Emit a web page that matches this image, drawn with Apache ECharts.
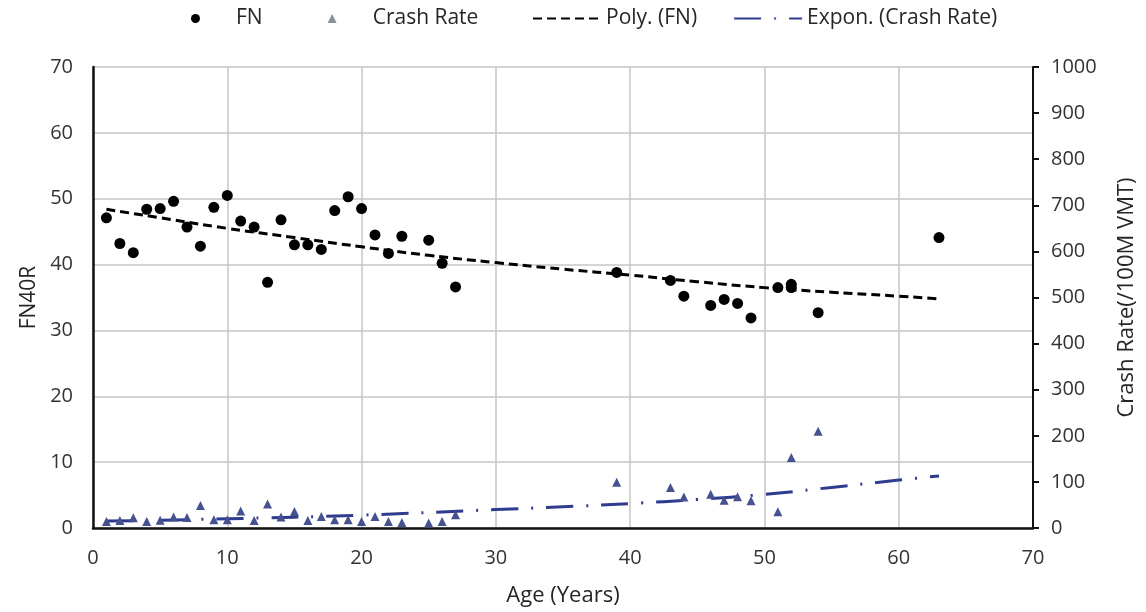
<!DOCTYPE html>
<html>
<head>
<meta charset="utf-8">
<script src="https://cdn.jsdelivr.net/npm/echarts@6/dist/echarts.min.js"></script>
<style>
  html, body { margin: 0; padding: 0; background: #fff; }
  #container { width: 1146px; height: 612px; }
</style>
</head>
<body>
<div id="container"></div>
<script>
// FN points (age, FN40R)
var fnAges = [1, 2, 3, 4, 5, 6, 7, 8, 9, 10, 11, 12, 13, 14, 15, 16, 17, 18, 19, 20, 21, 22, 23, 25, 26, 27, 39, 43, 44, 46, 47, 48, 49, 51, 52, 52, 54, 63];
var fnValues = [47.1, 43.2, 41.8, 48.4, 48.5, 49.6, 45.7, 42.8, 48.7, 50.5, 46.6, 45.7, 37.3, 46.8, 43.0, 43.0, 42.3, 48.2, 50.3, 48.5, 44.5, 41.7, 44.3, 43.7, 40.2, 36.6, 38.8, 37.6, 35.2, 33.8, 34.7, 34.1, 31.9, 36.5, 37.0, 36.5, 32.7, 44.1];

// crash rate points (age, /100M VMT)
var crashAges = [1, 2, 3, 4, 5, 6, 7, 8, 9, 10, 11, 12, 13, 14, 15, 16, 17, 18, 19, 20, 21, 22, 23, 25, 26, 27, 39, 43, 44, 46, 47, 48, 49, 51, 52, 54];
var crashValues = [14, 16, 22, 14, 17, 24, 23, 49, 18, 18, 37, 16, 52, 24, 36, 16, 25, 18, 18, 14, 25, 14, 12, 11, 14, 29, 99, 88, 67, 73, 60, 68, 59, 35, 153, 210];

// trend lines
var polyAges = [1, 5, 10, 15, 20, 25, 30, 35, 40, 45, 50, 55, 60, 63];
var polyValues = [48.4, 47.1, 45.5, 44.1, 42.7, 41.4, 40.3, 39.3, 38.4, 37.4, 36.5, 35.8, 35.2, 34.8];
var exponAges = [1, 10, 20, 30, 35, 40, 45, 50, 55, 60, 63];
var exponValues = [15, 20, 28, 40, 46, 53, 62, 73, 88, 104, 113];

function pairs(xs, ys) {
  var out = [];
  for (var i = 0; i < xs.length; i++) out.push([xs[i], ys[i]]);
  return out;
}

var dom = document.getElementById("container");
var myChart = echarts.init(dom, null, { renderer: 'canvas' });
var font = 'Open Sans';
var ink = '#262626';
var option = null;

option = {
  backgroundColor: '#ffffff',
  animation: false,
  textStyle: { fontFamily: font },

  // two legends: marker keys and trendline keys
  legend: [
    {
      top: 3,
      left: 186,
      itemWidth: 9,
      itemHeight: 9,
      itemGap: 65,
      textStyle: { fontFamily: font, fontSize: 21, color: ink, padding: [0, 0, 0, 31] },
      data: [
        { name: 'FN', icon: 'circle', itemStyle: { color: '#000' } },
        { name: 'Crash Rate', icon: 'triangle', itemStyle: { color: '#8a8f9e' } }
      ]
    },
    {
      top: 3,
      left: 527,
      itemWidth: 68,
      itemHeight: 10,
      itemGap: 36,
      textStyle: { fontFamily: font, fontSize: 21, color: ink },
      data: [
        { name: 'Poly. (FN)', itemStyle: { opacity: 0 } },
        { name: 'Expon. (Crash Rate)', itemStyle: { opacity: 0 } }
      ]
    }
  ],

  grid: { left: 93, right: 113, top: 67, bottom: 82 },

  xAxis: {
    type: 'value',
    min: 0, max: 70, interval: 10,
    name: 'Age (Years)',
    nameLocation: 'middle',
    nameGap: 57,
    nameTextStyle: { fontFamily: font, fontSize: 22, color: ink },
    axisLine: { lineStyle: { color: '#111', width: 2.5 } },
    axisTick: { show: false },
    axisLabel: { fontFamily: font, fontSize: 20, color: '#333', margin: 20 },
    splitLine: { lineStyle: { color: '#c6c6c6', width: 1.5 } }
  },

  yAxis: [
    {
      type: 'value',
      min: 0, max: 70, interval: 10,
      name: 'FN40R',
      nameLocation: 'middle',
      nameRotate: 90,
      nameGap: 52,
      nameTextStyle: { fontFamily: font, fontSize: 21, color: ink },
      axisLine: { show: true, lineStyle: { color: '#111', width: 2.5 } },
      axisTick: { show: false },
      axisLabel: { fontFamily: font, fontSize: 20, color: '#333', margin: 20 },
      splitLine: { lineStyle: { color: '#c6c6c6', width: 1.5 } }
    },
    {
      type: 'value',
      min: 0, max: 1000, interval: 100,
      position: 'right',
      name: 'Crash Rate(/100M VMT)',
      nameLocation: 'middle',
      nameRotate: 90,
      nameGap: 83,
      nameTextStyle: { fontFamily: font, fontSize: 22, color: ink },
      axisLine: { show: true, lineStyle: { color: '#111', width: 2 } },
      axisTick: { show: true, length: 6, lineStyle: { color: '#111', width: 2 } },
      axisLabel: {
        fontFamily: font, fontSize: 20, color: '#333', margin: 18,
        formatter: function (v) { return String(v); }
      },
      splitLine: { show: false }
    }
  ],

  series: [
    {
      name: 'FN',
      type: 'scatter',
      symbol: 'circle',
      symbolSize: 11,
      itemStyle: { color: '#000', opacity: 1 },
      data: pairs(fnAges, fnValues),
      z: 4
    },
    {
      name: 'Crash Rate',
      type: 'scatter',
      yAxisIndex: 1,
      symbol: 'triangle',
      symbolSize: 9,
      itemStyle: { color: '#465290', opacity: 1 },
      data: pairs(crashAges, crashValues),
      z: 4
    },
    {
      name: 'Poly. (FN)',
      type: 'line',
      smooth: true,
      symbol: 'none',
      lineStyle: { color: '#000', width: 3, type: [9, 5] },
      itemStyle: { color: '#000' },
      data: pairs(polyAges, polyValues),
      z: 3
    },
    {
      name: 'Expon. (Crash Rate)',
      type: 'line',
      yAxisIndex: 1,
      smooth: true,
      symbol: 'none',
      lineStyle: { color: '#2f3c8e', width: 3, type: [27, 13, 2, 13] },
      itemStyle: { color: '#2f3c8e' },
      data: pairs(exponAges, exponValues),
      z: 3
    }
  ]
};

if (option && typeof option === "object") {
  myChart.setOption(option, true);
}
</script>
</body>
</html>
